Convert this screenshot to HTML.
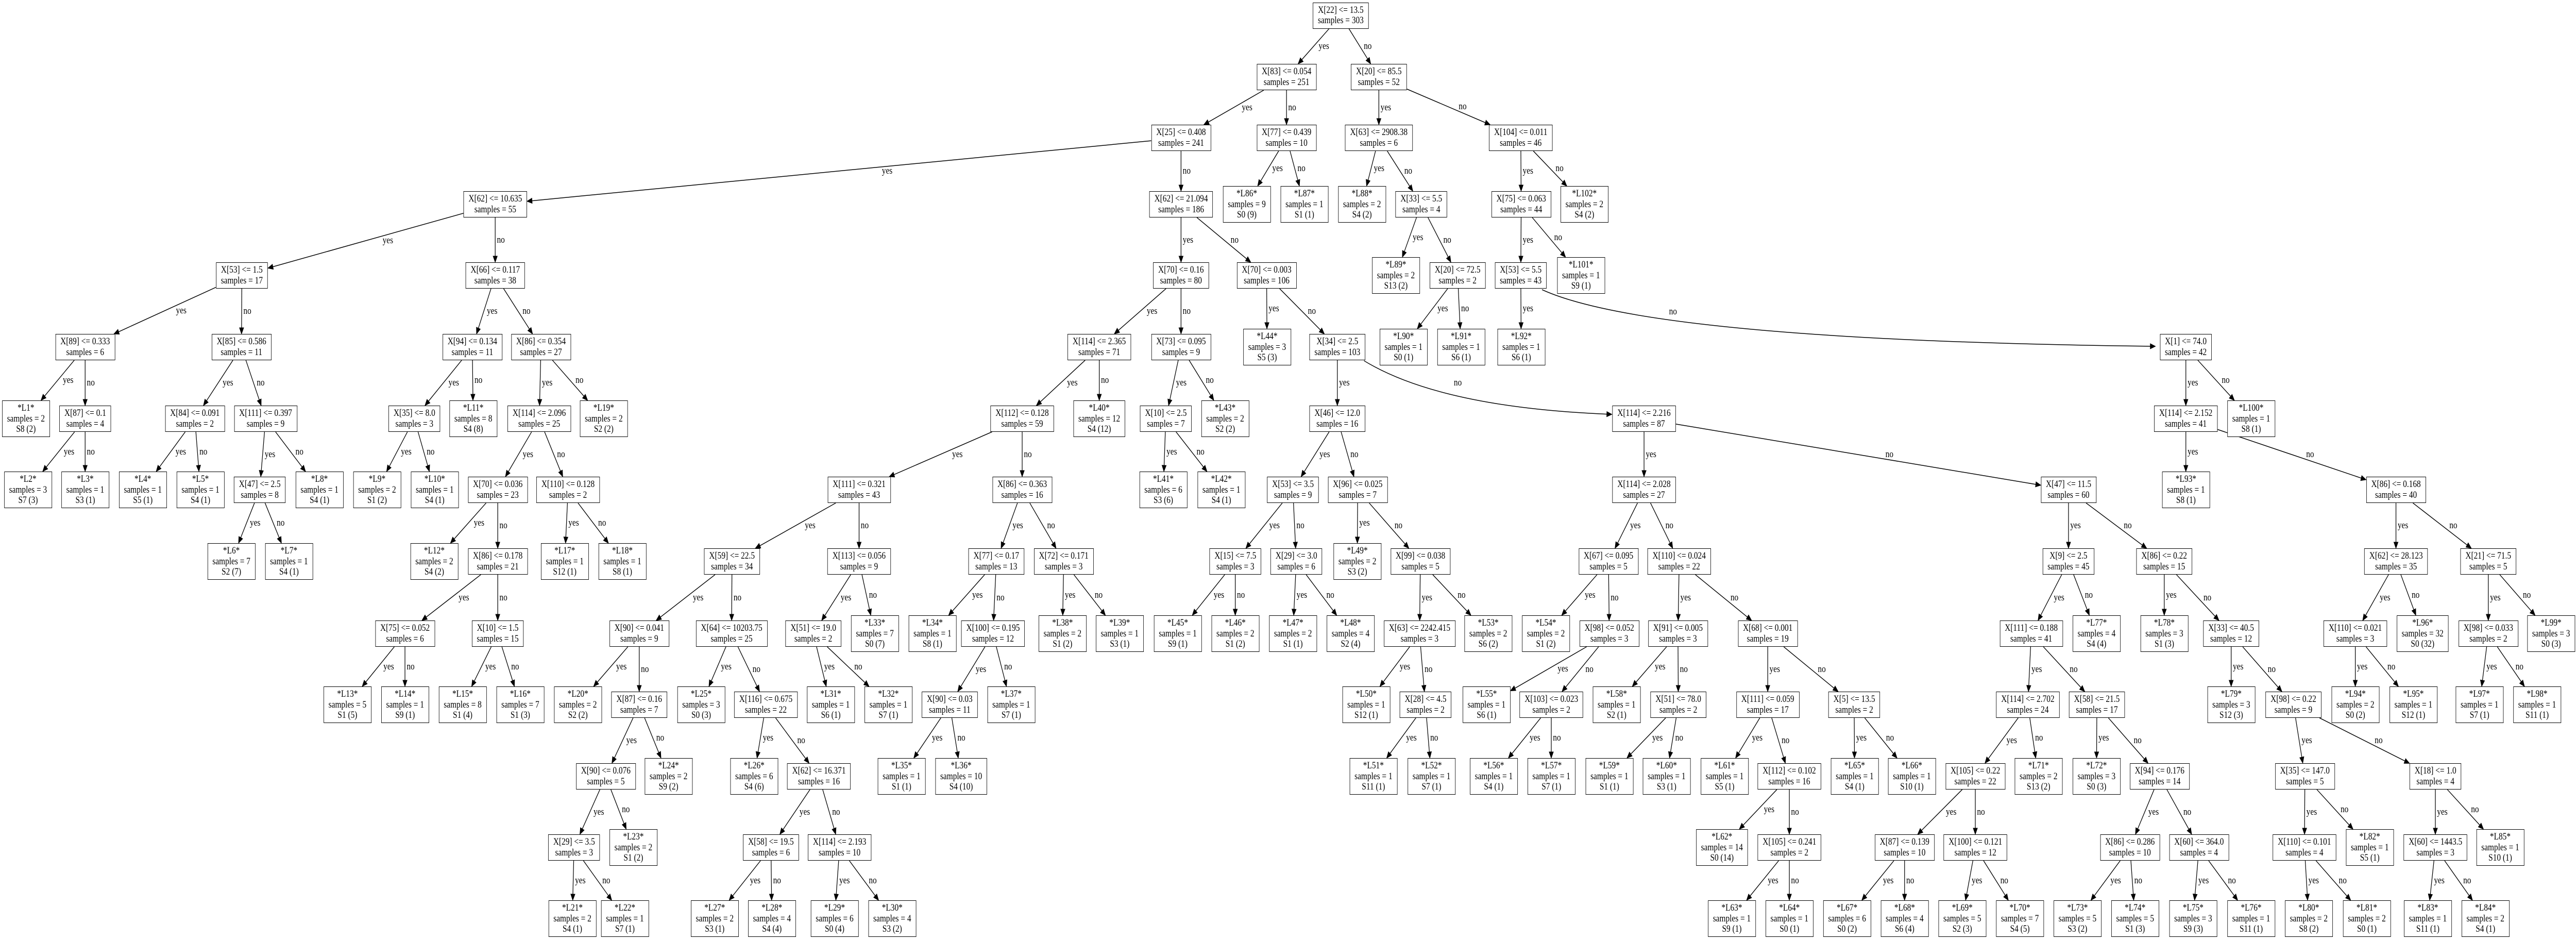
<!DOCTYPE html>
<html><head><meta charset="utf-8">
<style>
html,body{margin:0;padding:0;background:#fff;overflow:hidden;}
body{width:6081px;height:1824px;position:relative;}
#root{position:absolute;left:0;top:0;width:6081px;height:1824px;overflow:hidden;transform-origin:0 0;font-family:"Liberation Serif","Times New Roman",serif;}
.n{position:absolute;box-sizing:border-box;border:1.5px solid #000;background:#fff;white-space:nowrap;text-align:center;font-size:18.7px;line-height:20.5px;padding:4px 11px;color:#000;}
.lb{position:absolute;font-size:18.7px;line-height:20px;white-space:nowrap;color:#000;}
svg{position:absolute;left:0;top:0;}
</style></head><body>
<div id="root"><svg id="sv" width="6081" height="1824" viewBox="0 0 6081 1824"></svg></div>
<script>
const T=[4.5,124,242,371,509,648,787,925,1064,1204,1342,1481,1619,1757];
const N=[];
function I(id,x,r,c,s,p,l){N.push({id,x,r,lines:[c,"samples = "+s],p,l,leaf:false});}
function L(id,x,r,s,cl,p,l){N.push({id,"x":x,r,lines:["*"+id+"*","samples = "+s,cl],p,l,leaf:true});}
I("root",3165,0,"X[22] <= 13.5",303);
I("a",3037,1,"X[83] <= 0.054",251,"root","yes");
I("b",3255,1,"X[20] <= 85.5",52,"root","no");
I("c",2788,2,"X[25] <= 0.408",241,"a","yes");
I("d",3037,2,"X[77] <= 0.439",10,"a","no");
I("e",3255,2,"X[63] <= 2908.38",6,"b","yes");
I("f",3590,2,"X[104] <= 0.011",46,"b","no");
I("g",1169,3,"X[62] <= 10.635",55,"c","yes");
I("h",2788,3,"X[62] <= 21.094",186,"c","no");
L("L86",2943,3,9,"S0 (9)","d","yes");
L("L87",3079,3,1,"S1 (1)","d","no");
L("L88",3215,3,2,"S4 (2)","e","yes");
I("i",3355,3,"X[33] <= 5.5",4,"e","no");
I("j",3591,3,"X[75] <= 0.063",44,"f","yes");
L("L102",3740,3,2,"S4 (2)","f","no");
I("k",571,4,"X[53] <= 1.5",17,"g","yes");
I("l",1169,4,"X[66] <= 0.117",38,"g","no");
I("m",2788,4,"X[70] <= 0.16",80,"h","yes");
I("n",2990,4,"X[70] <= 0.003",106,"h","no");
L("L89",3295,4,2,"S13 (2)","i","yes");
I("o",3441,4,"X[20] <= 72.5",2,"i","no");
I("p",3590,4,"X[53] <= 5.5",43,"j","yes");
L("L101",3732,4,1,"S9 (1)","j","no");
I("q",201,5,"X[89] <= 0.333",6,"k","yes");
I("r",570,5,"X[85] <= 0.586",11,"k","no");
I("s",1115,5,"X[94] <= 0.134",11,"l","yes");
I("t",1277,5,"X[86] <= 0.354",27,"l","no");
I("u",2595,5,"X[114] <= 2.365",71,"m","yes");
I("v",2788,5,"X[73] <= 0.095",9,"m","no");
L("L44",2991,5,3,"S5 (3)","n","yes");
I("w",3157,5,"X[34] <= 2.5",103,"n","no");
L("L90",3313,5,1,"S0 (1)","o","yes");
L("L91",3449,5,1,"S6 (1)","o","no");
L("L92",3591,5,1,"S6 (1)","p","yes");
I("x",5160,5,"X[1] <= 74.0",42,"p","no");
L("L1",61,6,2,"S8 (2)","q","yes");
I("y",201,6,"X[87] <= 0.1",4,"q","no");
I("z",460,6,"X[84] <= 0.091",2,"r","yes");
I("A",627,6,"X[111] <= 0.397",9,"r","no");
I("B",978,6,"X[35] <= 8.0",3,"s","yes");
L("L11",1117,6,8,"S4 (8)","s","no");
I("C",1273,6,"X[114] <= 2.096",25,"t","yes");
L("L19",1425,6,2,"S2 (2)","t","no");
I("D",2413,6,"X[112] <= 0.128",59,"u","yes");
L("L40",2595,6,12,"S4 (12)","u","no");
I("E",2752,6,"X[10] <= 2.5",7,"v","yes");
L("L43",2892,6,2,"S2 (2)","v","no");
I("F",3157,6,"X[46] <= 12.0",16,"w","yes");
I("G",3881,6,"X[114] <= 2.216",87,"w","no");
I("H",5160,6,"X[114] <= 2.152",41,"x","yes");
L("L100",5314,6,1,"S8 (1)","x","no");
L("L2",66,7,3,"S7 (3)","y","yes");
L("L3",201,7,1,"S3 (1)","y","no");
L("L4",337,7,1,"S5 (1)","z","yes");
L("L5",473,7,1,"S4 (1)","z","no");
I("I",613,7,"X[47] <= 2.5",8,"A","yes");
L("L8",754,7,1,"S4 (1)","A","no");
L("L9",890,7,2,"S1 (2)","B","yes");
L("L10",1026,7,1,"S4 (1)","B","no");
I("J",1175,7,"X[70] <= 0.036",23,"C","yes");
I("K",1341,7,"X[110] <= 0.128",2,"C","no");
I("M",2028,7,"X[111] <= 0.321",43,"D","yes");
I("Nn",2413,7,"X[86] <= 0.363",16,"D","no");
L("L41",2746,7,6,"S3 (6)","E","yes");
L("L42",2883,7,1,"S4 (1)","E","no");
I("O",3052,7,"X[53] <= 3.5",9,"F","yes");
I("P",3205,7,"X[96] <= 0.025",7,"F","no");
I("Q",3881,7,"X[114] <= 2.028",27,"G","yes");
I("R",4883,7,"X[47] <= 11.5",60,"G","no");
L("L93",5160,7,1,"S8 (1)","H","yes");
I("S",5656,7,"X[86] <= 0.168",40,"H","no");
L("L6",546,8,7,"S2 (7)","I","yes");
L("L7",682,8,1,"S4 (1)","I","no");
L("L12",1025,8,2,"S4 (2)","J","yes");
I("Tt",1175,8,"X[86] <= 0.178",21,"J","no");
L("L17",1333,8,1,"S12 (1)","K","yes");
L("L18",1469,8,1,"S8 (1)","K","no");
I("U",1728,8,"X[59] <= 22.5",34,"M","yes");
I("V",2028,8,"X[113] <= 0.056",9,"M","no");
I("W",2352,8,"X[77] <= 0.17",13,"Nn","yes");
I("X",2511,8,"X[72] <= 0.171",3,"Nn","no");
I("Y",2916,8,"X[15] <= 7.5",3,"O","yes");
I("Z",3060,8,"X[29] <= 3.0",6,"O","no");
L("L49",3204,8,2,"S3 (2)","P","yes");
I("a2",3353,8,"X[99] <= 0.038",5,"P","no");
I("b2",3797,8,"X[67] <= 0.095",5,"Q","yes");
I("c2",3964,8,"X[110] <= 0.024",22,"Q","no");
I("d2",4883,8,"X[9] <= 2.5",45,"R","yes");
I("e2",5109,8,"X[86] <= 0.22",15,"R","no");
I("f2",5656,8,"X[62] <= 28.123",35,"S","yes");
I("g2",5874,8,"X[21] <= 71.5",5,"S","no");
I("h2",956,9,"X[75] <= 0.052",6,"Tt","yes");
I("i2",1175,9,"X[10] <= 1.5",15,"Tt","no");
I("j2",1509,9,"X[90] <= 0.041",9,"U","yes");
I("k2",1727,9,"X[64] <= 10203.75",25,"U","no");
I("l2",1920,9,"X[51] <= 19.0",2,"V","yes");
L("L33",2065,9,7,"S0 (7)","V","no");
L("L34",2201,9,1,"S8 (1)","W","yes");
I("m2",2344,9,"X[100] <= 0.195",12,"W","no");
L("L38",2508,9,2,"S1 (2)","X","yes");
L("L39",2643,9,1,"S3 (1)","X","no");
L("L45",2780,9,1,"S9 (1)","Y","yes");
L("L46",2916,9,2,"S1 (2)","Y","no");
L("L47",3052,9,2,"S1 (1)","Z","yes");
L("L48",3188,9,4,"S2 (4)","Z","no");
I("n2",3351,9,"X[63] <= 2242.415",3,"a2","yes");
L("L53",3513,9,2,"S6 (2)","a2","no");
L("L54",3649,9,2,"S1 (2)","b2","yes");
I("o2",3799,9,"X[98] <= 0.052",3,"b2","no");
I("p2",3961,9,"X[91] <= 0.005",3,"c2","yes");
I("q2",4173,9,"X[68] <= 0.001",19,"c2","no");
I("r2",4795,9,"X[111] <= 0.188",41,"d2","yes");
L("L77",4949,9,4,"S4 (4)","d2","no");
L("L78",5109,9,3,"S1 (3)","e2","yes");
I("s2",5267,9,"X[33] <= 40.5",12,"e2","no");
I("t2",5560,9,"X[110] <= 0.021",3,"f2","yes");
L("L96",5719,9,32,"S0 (32)","f2","no");
I("u2",5874,9,"X[98] <= 0.033",2,"g2","yes");
L("L99",6022,9,3,"S0 (3)","g2","no");
L("L13",820,10,5,"S1 (5)","h2","yes");
L("L14",956,10,1,"S9 (1)","h2","no");
L("L15",1092,10,8,"S1 (4)","i2","yes");
L("L16",1228,10,7,"S1 (3)","i2","no");
L("L20",1364,10,2,"S2 (2)","j2","yes");
I("v2",1509,10,"X[87] <= 0.16",7,"j2","no");
L("L25",1655,10,3,"S0 (3)","k2","yes");
I("w2",1808,10,"X[116] <= 0.675",22,"k2","no");
L("L31",1961,10,1,"S6 (1)","l2","yes");
L("L32",2097,10,1,"S7 (1)","l2","no");
I("x2",2242,10,"X[90] <= 0.03",11,"m2","yes");
L("L37",2387,10,1,"S7 (1)","m2","no");
L("L50",3225,10,1,"S12 (1)","n2","yes");
I("y2",3365,10,"X[28] <= 4.5",2,"n2","no");
L("L55",3509,10,1,"S6 (1)","o2","yes");
I("z2",3662,10,"X[103] <= 0.023",2,"o2","no");
L("L58",3816,10,1,"S2 (1)","p2","yes");
I("A2",3962,10,"X[51] <= 78.0",2,"p2","no");
I("B2",4173,10,"X[111] <= 0.059",17,"q2","yes");
I("C2",4377,10,"X[5] <= 13.5",2,"q2","no");
I("D2",4787,10,"X[114] <= 2.702",24,"r2","yes");
I("E2",4950,10,"X[58] <= 21.5",17,"r2","no");
L("L79",5267,10,3,"S12 (3)","s2","yes");
I("F2",5414,10,"X[98] <= 0.22",9,"s2","no");
L("L94",5560,10,2,"S0 (2)","t2","yes");
L("L95",5697,10,1,"S12 (1)","t2","no");
L("L97",5853,10,1,"S7 (1)","u2","yes");
L("L98",5989,10,1,"S11 (1)","u2","no");
I("G2",1430,11,"X[90] <= 0.076",5,"v2","yes");
L("L24",1578,11,2,"S9 (2)","v2","no");
L("L26",1780,11,6,"S4 (6)","w2","yes");
I("H2",1933,11,"X[62] <= 16.371",16,"w2","no");
L("L35",2128,11,1,"S1 (1)","x2","yes");
L("L36",2269,11,10,"S4 (10)","x2","no");
L("L51",3242,11,1,"S11 (1)","y2","yes");
L("L52",3379,11,1,"S7 (1)","y2","no");
L("L56",3526,11,1,"S4 (1)","z2","yes");
L("L57",3662,11,1,"S7 (1)","z2","no");
L("L59",3799,11,1,"S1 (1)","A2","yes");
L("L60",3934,11,1,"S3 (1)","A2","no");
L("L61",4071,11,1,"S5 (1)","B2","yes");
I("I2",4224,11,"X[112] <= 0.102",16,"B2","no");
L("L65",4378,11,1,"S4 (1)","C2","yes");
L("L66",4513,11,1,"S10 (1)","C2","no");
I("J2",4663,11,"X[105] <= 0.22",22,"D2","yes");
L("L71",4812,11,2,"S13 (2)","D2","no");
L("L72",4949,11,3,"S0 (3)","E2","yes");
I("K2",5098,11,"X[94] <= 0.176",14,"E2","no");
I("M2",5441,11,"X[35] <= 147.0",5,"F2","yes");
I("N2",5749,11,"X[18] <= 1.0",4,"F2","no");
I("O2",1355,12,"X[29] <= 3.5",3,"G2","yes");
L("L23",1495,12,2,"S1 (2)","G2","no");
I("P2",1820,12,"X[58] <= 19.5",6,"H2","yes");
I("Q2",1982,12,"X[114] <= 2.193",10,"H2","no");
L("L62",4065,12,14,"S0 (14)","I2","yes");
I("R2",4224,12,"X[105] <= 0.241",2,"I2","no");
I("S2",4496,12,"X[87] <= 0.139",10,"J2","yes");
I("T2",4663,12,"X[100] <= 0.121",12,"J2","no");
I("U2",5028,12,"X[86] <= 0.286",10,"K2","yes");
I("V2",5191,12,"X[60] <= 364.0",4,"K2","no");
I("W2",5440,12,"X[110] <= 0.101",4,"M2","yes");
L("L82",5594,12,1,"S5 (1)","M2","no");
I("X2",5749,12,"X[60] <= 1443.5",3,"N2","yes");
L("L85",5902,12,1,"S10 (1)","N2","no");
L("L21",1351,13,2,"S4 (1)","O2","yes");
L("L22",1475,13,1,"S7 (1)","O2","no");
L("L27",1687,13,2,"S3 (1)","P2","yes");
L("L28",1822,13,4,"S4 (4)","P2","no");
L("L29",1970,13,6,"S0 (4)","Q2","yes");
L("L30",2106,13,4,"S3 (2)","Q2","no");
L("L63",4088,13,1,"S9 (1)","R2","yes");
L("L64",4224,13,1,"S0 (1)","R2","no");
L("L67",4360,13,6,"S0 (2)","S2","yes");
L("L68",4496,13,4,"S6 (4)","S2","no");
L("L69",4632,13,5,"S2 (3)","T2","yes");
L("L70",4768,13,7,"S4 (5)","T2","no");
L("L73",4904,13,5,"S3 (2)","U2","yes");
L("L74",5040,13,5,"S1 (3)","U2","no");
L("L75",5177,13,3,"S9 (3)","V2","yes");
L("L76",5314,13,1,"S11 (1)","V2","no");
L("L80",5450,13,2,"S8 (2)","W2","yes");
L("L81",5587,13,2,"S0 (1)","W2","no");
L("L83",5731,13,1,"S11 (1)","X2","yes");
L("L84",5867,13,2,"S4 (1)","X2","no");

const byId={};
const root=document.getElementById('root');
N.forEach(n=>{
  const d=document.createElement('div');
  d.className='n';
  d.innerHTML=n.lines.map(s=>s.replace(/&/g,'&amp;').replace(/</g,'&lt;')).join('<br>');
  const h=n.leaf?71:51;
  d.style.height=h+'px';
  d.style.top=(n.leaf?T[n.r]-10:T[n.r])+'px';
  root.appendChild(d);
  const w=d.offsetWidth;
  let left=n.x-w/2;
  if(left+w>6079){left=6079-w;n.x=left+w/2;}
  if(left<1){left=1;n.x=left+w/2;}
  d.style.left=left+'px';
  n.w=w;n.h=h;n.cy=T[n.r]+25.5;
  byId[n.id]=n;
});
const sv=document.getElementById('sv');
let out='';
function arrow(tx,ty,ux,uy){
  const len=12,hw=5;
  const bx=tx-ux*len,by=ty-uy*len;
  const px=-uy,py=ux;
  out+=`<polygon points="${tx},${ty} ${bx+px*hw},${by+py*hw} ${bx-px*hw},${by-py*hw}" fill="#000" stroke="#000" stroke-width="1"/>`;
  return [bx,by];
}
function label(txt,x,y){
  const s=document.createElement('div');
  s.className='lb';s.textContent=txt;
  s.style.left=x+'px';s.style.top=(y-10)+'px';
  root.appendChild(s);
}
const curves={
  G:{d:[3220,700,3400,790,3805,804],lab:[3432,743]},
  x:{d:[3640,562,3900,660,5088,672],lab:[3940,605]}
};
N.forEach(n=>{
  if(!n.p)return;
  const P=byId[n.p];
  if(curves[n.id]){
    const c=curves[n.id].d;
    let ux=c[4]-c[2],uy=c[5]-c[3];const l=Math.hypot(ux,uy);ux/=l;uy/=l;
    const b=arrow(c[4],c[5],ux,uy);
    out+=`<path d="M${c[0]},${c[1]} Q${c[2]},${c[3]} ${b[0]},${b[1]}" fill="none" stroke="#000" stroke-width="1.5"/>`;
    label(n.l,curves[n.id].lab[0],curves[n.id].lab[1]);
    return;
  }
  const px=P.x,py=P.cy,cx=n.x,cy=n.cy;
  const dx=cx-px,dy=cy-py;
  const adx=Math.abs(dx)||1e-6,ady=Math.abs(dy)||1e-6;
  const t1=Math.min(P.w/2/adx,P.h/2/ady);
  const t2=1-Math.min(n.w/2/adx,n.h/2/ady);
  const sx=px+dx*t1,sy=py+dy*t1,ex=px+dx*t2,ey=py+dy*t2;
  const l=Math.hypot(ex-sx,ey-sy);
  const ux=(ex-sx)/l,uy=(ey-sy)/l;
  const b=arrow(ex,ey,ux,uy);
  out+=`<line x1="${sx}" y1="${sy}" x2="${b[0]}" y2="${b[1]}" stroke="#000" stroke-width="1.5"/>`;
  const mx=(sx+ex)/2,my=(sy+ey)/2;
  label(n.l,mx+4+0.06*Math.abs(dx),my);
});
sv.innerHTML=out;
function fit(){
  const vw=window.innerWidth||document.documentElement.clientWidth||6081;
  let s=vw/6081; if(s>1)s=1; if(s<0.5)s=0.5;
  root.style.transform=s<0.999?`scale(${s},1)`:'none';
}
fit();
</script>
</body></html>
